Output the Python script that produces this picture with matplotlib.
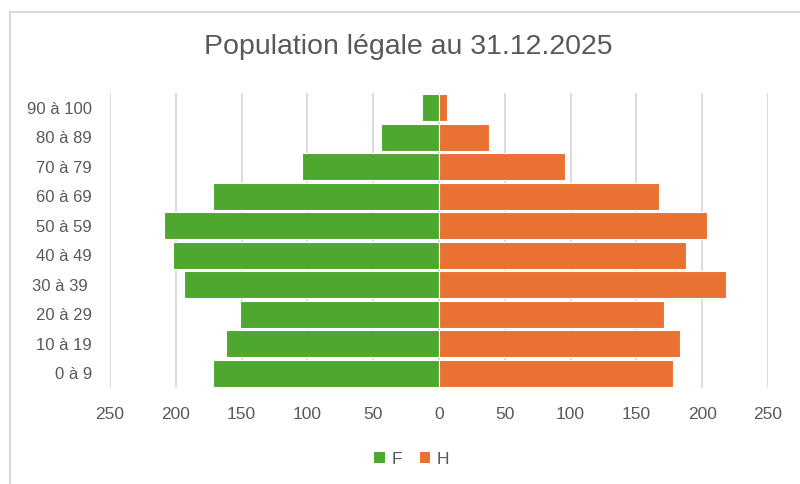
import matplotlib.pyplot as plt
from matplotlib.lines import Line2D
from matplotlib.patches import Patch

plt.rcParams["font.family"] = ["Liberation Sans", "DejaVu Sans"]

AGE_GROUPS = ["0 à 9", "10 à 19", "20 à 29", "30 à 39 ", "40 à 49",
              "50 à 59", "60 à 69", "70 à 79", "80 à 89", "90 à 100"]
FEMMES = [172, 162, 151, 194, 202, 209, 172, 104, 44, 13]
HOMMES = [178, 183, 171, 218, 188, 204, 167, 96, 38, 6]
X_TICKS = [-250, -200, -150, -100, -50, 0, 50, 100, 150, 200, 250]

GREEN = "#4ea72e"
ORANGE = "#e97132"
TEXT = "#595959"
GRID = "#d9d9d9"


def main() -> None:
    W, H = 800, 484
    fig = plt.figure(figsize=(W / 100, H / 100), dpi=100)

    # chart area frame (only top and left edges are visible)
    fig.add_artist(Line2D([10 / W, 1], [1 - 12 / H, 1 - 12 / H], color=GRID, lw=1.5))
    fig.add_artist(Line2D([10 / W, 10 / W], [0, 1 - 12 / H], color=GRID, lw=1.5))

    left, right, top, bottom = 110, 768, 93, 388
    ax = fig.add_axes([left / W, 1 - bottom / H, (right - left) / W, (bottom - top) / H])

    y = range(len(AGE_GROUPS))
    ax.barh(y, [-v for v in FEMMES], height=0.9, color=GREEN, edgecolor="white", lw=0.8, zorder=3)
    ax.barh(y, HOMMES, height=0.9, color=ORANGE, edgecolor="white", lw=0.8, zorder=3)

    ax.set_xlim(-250, 250)
    ax.set_ylim(-0.5, len(AGE_GROUPS) - 0.5)
    ax.set_xticks(X_TICKS)
    ax.set_xticklabels([str(abs(t)) for t in X_TICKS])
    ax.set_yticks(list(y))
    ax.set_yticklabels(AGE_GROUPS)
    ax.tick_params(length=0, colors=TEXT)
    ax.tick_params(axis="x", pad=14, labelsize=12.5)
    ax.tick_params(axis="y", pad=13, labelsize=12)
    ax.grid(axis="x", color=GRID, lw=1.3, zorder=0)
    for s in ax.spines.values():
        s.set_visible(False)

    fig.text(0.51, 1 - 47 / H, "Population légale au 31.12.2025",
             ha="center", va="center", fontsize=20.5, color=TEXT)

    handles = [Patch(facecolor=GREEN, label="F"), Patch(facecolor=ORANGE, label="H")]
    fig.legend(handles=handles, loc="center", bbox_to_anchor=(412 / W, 1 - 459 / H),
               ncol=2, frameon=False, fontsize=12.5, labelcolor=TEXT,
               handlelength=0.6, handleheight=0.6, handletextpad=0.4, columnspacing=1.0)

    fig.savefig("out.png", dpi=100)
    plt.close(fig)


if __name__ == "__main__":
    main()
